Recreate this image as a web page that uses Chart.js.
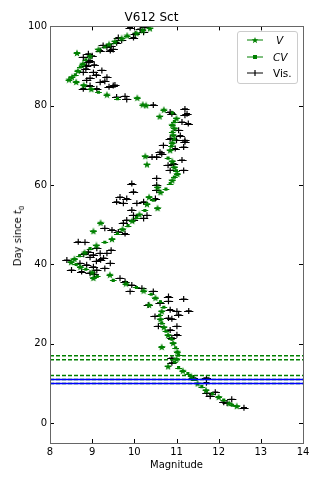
<!DOCTYPE html>
<html lang="en">

<head>
    <meta charset="UTF-8">
    <title>V612 Sct</title>
    <script src="https://cdn.jsdelivr.net/npm/chart.js@4/dist/chart.umd.min.js"></script>
    <style>
        body { margin: 0; background: #fff; }
        #wrap { position: relative; width: 322px; height: 483px; font-family: 'DejaVu Sans', sans-serif; }
        #ylab { position: absolute; left: 19px; top: 236px; transform: translate(-50%, -50%) rotate(-90deg); font-size: 10px; white-space: nowrap; color: #000; }
        #ylab sub { font-size: 7px; }
        #legend { position: absolute; left: 237px; top: 31px; width: 59px; height: 51px; border: 1px solid #ccc; border-radius: 3px; background: rgba(255,255,255,0.8); font-size: 10.5px; }
        #legend .row { position: absolute; left: 0; height: 14px; display: flex; align-items: center; }
        #legend svg { margin-left: 9px; margin-right: 10px; }
    </style>
</head>

<body>
    <div id="wrap">
        <canvas id="lc" width="322" height="483"></canvas>
        <div id="ylab">Day since <i>t</i><sub>0</sub></div>
        <div id="legend">
            <div class="row" style="top:1px">
                <svg width="16" height="8"><line x1="0" y1="4" x2="16" y2="4" stroke="green" stroke-width="1"/><polygon points="8,1 8.9,3.3 11.3,3.3 9.4,4.8 10.1,7.2 8,5.8 5.9,7.2 6.6,4.8 4.7,3.3 7.1,3.3" fill="green"/></svg>
                <span style="font-style:italic;margin-left:3px">V</span>
            </div>
            <div class="row" style="top:18px">
                <svg width="16" height="8"><line x1="0" y1="4" x2="16" y2="4" stroke="green" stroke-width="1"/><rect x="6" y="2" width="4" height="4" fill="green"/></svg>
                <span style="font-style:italic">CV</span>
            </div>
            <div class="row" style="top:34px">
                <svg width="16" height="8"><line x1="0" y1="4" x2="16" y2="4" stroke="#000" stroke-width="1"/><line x1="8" y1="1" x2="8" y2="7" stroke="#000" stroke-width="1.2"/></svg>
                <span>Vis.</span>
            </div>
        </div>
    </div>

    <script>
        // V band (magnitude, day since t0)
        const vMag = [10.37, 10.2, 10.05, 9.83, 9.7, 9.54, 9.4, 9.15, 8.64, 8.95, 8.78, 8.66, 8.52, 8.45, 8.62, 8.8, 8.98, 9.35,
            10.07, 10.2, 10.28, 10.7, 10.6, 11.0, 10.9, 10.95, 10.92, 10.9, 10.85, 10.26, 10.9, 10.3, 10.95, 11.02, 10.9,
            10.55, 10.62, 10.35, 10.3, 10.55, 10.12, 9.95, 9.2, 9.72, 9.03, 9.47, 9.1, 8.82, 8.58, 8.5, 8.72, 9.0, 9.42,
            9.03, 9.8, 10.22, 10.5, 10.35, 10.65, 10.62, 10.7, 10.8, 10.92, 10.65, 11.02, 11.0, 10.8, 11.15, 11.35, 11.5,
            11.7, 12.0, 12.25, 12.43];
        const vDay = [99.5, 99.0, 98.3, 97.7, 97.0, 96.2, 95.5, 94.2, 93.3, 92.5, 90.6, 88.8, 87.2, 86.6, 86.0, 85.2, 84.2, 82.8,
            82.0, 80.3, 80.1, 79.0, 77.3, 76.8, 75.2, 74.3, 72.6, 70.7, 68.8, 67.3, 66.0, 65.2, 64.5, 62.8, 61.2,
            59.4, 58.2, 57.0, 55.2, 54.2, 52.6, 51.0, 50.5, 48.9, 48.4, 46.4, 44.8, 43.0, 41.4, 40.6, 39.4, 38.0, 37.4,
            36.6, 35.2, 33.4, 31.6, 29.8, 28.2, 26.2, 24.2, 22.2, 20.2, 19.2, 18.0, 16.2, 14.3, 13.2, 11.8, 10.0,
            8.3, 6.6, 5.0, 4.3];

        // CV band
        const cvMag = [9.3, 8.85, 8.72, 8.6, 9.15, 9.6, 10.9, 10.95, 10.9, 10.95, 10.88, 10.8, 11.0, 10.95, 10.85, 10.75,
            10.45, 10.25, 10.05, 9.85, 9.6, 9.3, 8.95, 8.7, 8.62, 8.85, 9.12, 9.5, 10.05, 10.4, 10.62, 10.7, 10.6, 10.65,
            10.75, 10.88, 10.98, 11.05, 10.95, 11.05, 11.27, 11.42, 11.6, 11.85, 12.12, 12.33];
        const cvDay = [94.8, 91.6, 89.8, 87.8, 83.4, 81.8, 78.2, 76.0, 73.4, 71.6, 69.8, 66.8, 63.6, 62.0, 60.4, 59.0,
            56.2, 53.6, 51.8, 49.8, 47.8, 45.6, 44.0, 42.2, 40.0, 38.8, 37.0, 36.0, 34.2, 32.5, 30.6, 29.2, 27.2, 25.2,
            23.2, 21.2, 19.0, 17.2, 15.4, 14.0, 12.5, 11.0, 9.2, 7.4, 5.8, 4.5];

        // visual estimates
        const visMag = [10.02, 10.14, 10.22, 9.98, 9.9, 9.62, 9.58, 9.35, 9.19, 9.43, 9.26, 8.91, 8.79, 8.95, 8.87, 9.03,
            8.79, 8.87, 9.23, 9.35, 9.19, 8.79, 9.11, 8.95, 9.5, 9.54, 9.58, 9.82, 9.78, 10.45, 10.85, 11.2, 11.25, 10.89,
            11.13, 11.2, 11.05, 11.09, 11.2, 11.28, 10.85, 11.0, 10.69, 10.97, 11.2, 10.61, 11.17, 10.65, 10.53, 10.42,
            11.13, 10.93, 10.8, 10.85, 11.17, 10.53, 10.53, 9.94, 10.53, 9.98, 9.66, 9.82, 9.58, 9.74, 10.06, 10.22, 10.5,
            9.94, 9.98, 10.3, 9.82, 9.98, 10.22, 9.74, 9.3, 9.47, 9.62, 9.78, 8.67, 8.83, 9.11, 9.19, 9.35, 9.03, 8.91,
            9.27, 8.4, 8.71, 8.87, 9.03, 9.43, 8.51, 8.75, 8.95, 9.11, 9.66, 9.78, 9.94, 9.9, 10.18, 10.45, 10.81, 10.81,
            11.17, 10.33, 10.61, 11.29, 10.85, 11.01, 10.49, 10.81, 11.05, 10.89, 10.57, 11.01, 10.85, 11.01, 10.89,
            10.89, 10.89, 11.4, 11.71, 11.71, 11.72, 11.8, 11.92, 12.12, 12.2, 12.31, 12.6,
            9.0, 8.92, 9.05, 8.85, 9.1, 8.95, 9.3, 9.4, 9.5, 9.7, 10.25, 9.45,
            9.2, 8.95, 9.1, 9.3, 9.05, 8.8, 9.45];
        const visDay = [98.1, 99.3, 98.5, 97.2, 99.7, 97.2, 95.9, 94.7, 93.9, 93.9, 95.2, 93.1, 92.2, 91.4, 90.1, 88.4,
            88.4, 86.4, 88.9, 87.2, 85.9, 84.3, 84.3, 85.1, 85.1, 85.2, 82.2, 81.6, 82.4, 80.2, 78.4, 79.2, 78.0, 78.0,
            75.9, 77.6, 73.8, 72.5, 71.3, 75.5, 71.7, 71.3, 70.0, 69.2, 70.9, 68.3, 69.6, 67.9, 67.1, 67.1,
            66.3, 65.4, 65.0, 63.7, 63.7, 61.7, 60.0, 60.4, 58.7, 58.3, 57.0, 56.6, 55.8, 55.4, 55.4, 55.8, 56.6,
            53.7, 52.4, 52.4, 51.2, 51.2, 51.6, 50.4, 49.1, 48.7, 48.2, 47.8, 45.7, 45.6, 44.1, 42.8, 42.8, 42.4, 43.2,
            41.6, 41.1, 40.3, 39.9, 39.4, 40.3, 38.6, 38.2, 37.8, 38.6, 36.5, 35.7, 34.8, 33.2, 34.0, 33.2, 31.9, 30.7,
            31.3, 29.8, 30.2, 28.3, 28.6, 28.2, 26.9, 26.5, 27.3, 26.3, 24.4, 24.4, 23.5, 22.3, 21.5,
            16.4, 15.2, 11.4, 11.4, 10.2, 7.6, 6.8, 7.8, 5.3, 5.1, 6.0, 3.9,
            92.6, 91.0, 90.3, 89.3, 87.8, 87.0, 86.2, 84.8, 94.2, 96.5, 99.8, 95.0,
            41.2, 41.8, 40.8, 39.0, 37.6, 42.6, 43.6];

        const greenDashDays = [10, 11, 12, 16, 17];
        const blueDays = [10, 11];
        const xTicks = [8, 9, 10, 11, 12, 13, 14];
        const yTicks = [0, 20, 40, 60, 80, 100];

        const pts = (mags, days) => mags.map((m, i) => ({ x: m, y: days[i] }));
        const hline = (d) => [{ x: 8, y: d }, { x: 14, y: d }];

        // filled five point star marker
        const star = document.createElement('canvas');
        star.width = 8; star.height = 8;
        (function () {
            const c = star.getContext('2d');
            c.fillStyle = 'green';
            c.beginPath();
            for (let i = 0; i < 10; i++) {
                const r = i % 2 ? 1.7 : 4;
                const a = -Math.PI / 2 + i * Math.PI / 5;
                c.lineTo(4 + r * Math.cos(a), 4.3 + r * Math.sin(a));
            }
            c.fill();
        })();

        const errorBars = {
            id: 'errorBars',
            beforeDatasetsDraw(chart) {
                const { ctx, scales: { x, y }, chartArea } = chart;
                ctx.save();
                ctx.beginPath();
                ctx.rect(chartArea.left, chartArea.top, chartArea.width, chartArea.height);
                ctx.clip();
                chart.data.datasets.forEach(ds => {
                    if (!ds.xErr) return;
                    ctx.strokeStyle = ds.errColor;
                    ctx.lineWidth = 1;
                    ds.data.forEach(p => {
                        const py = Math.round(y.getPixelForValue(p.y)) + 0.5;
                        ctx.beginPath();
                        ctx.moveTo(x.getPixelForValue(p.x - ds.xErr), py);
                        ctx.lineTo(x.getPixelForValue(p.x + ds.xErr), py);
                        ctx.stroke();
                    });
                });
                ctx.restore();
            }
        };

        const frame = {
            id: 'frame',
            afterDraw(chart) {
                const { ctx, chartArea: a, scales: { x, y } } = chart;
                ctx.save();
                ctx.strokeStyle = '#000';
                ctx.lineWidth = 1;
                ctx.beginPath();
                xTicks.forEach(v => {
                    const px = Math.round(x.getPixelForValue(v)) + 0.5;
                    ctx.moveTo(px, a.bottom); ctx.lineTo(px, a.bottom - 4);
                    ctx.moveTo(px, a.top); ctx.lineTo(px, a.top + 4);
                });
                yTicks.forEach(v => {
                    const py = Math.round(y.getPixelForValue(v)) + 0.5;
                    ctx.moveTo(a.left, py); ctx.lineTo(a.left + 4, py);
                    ctx.moveTo(a.right, py); ctx.lineTo(a.right - 4, py);
                });
                ctx.stroke();
                ctx.strokeStyle = '#666';
                ctx.strokeRect(Math.round(a.left) + 0.5, Math.round(a.top) + 0.5, Math.round(a.width), Math.round(a.height));
                ctx.restore();
            }
        };

        const ctx = document.getElementById('lc').getContext('2d');
        new Chart(ctx, {
            type: 'scatter',
            data: {
                datasets: [
                    ...blueDays.map(d => ({
                        data: hline(d), showLine: true, pointRadius: 0, borderColor: '#0000ff',
                        borderWidth: 1.5, order: -1
                    })),
                    ...greenDashDays.map(d => ({
                        data: hline(d), showLine: true, pointRadius: 0, borderColor: 'green',
                        borderWidth: 1.5, borderDash: [4, 2], order: 0
                    })),
                    {
                        label: 'Vis.', data: pts(visMag, visDay), pointStyle: 'cross', pointRadius: 3,
                        borderColor: '#000', backgroundColor: '#000', pointBorderWidth: 1.2,
                        xErr: 0.11, errColor: '#000', order: 3
                    },
                    {
                        label: 'CV', data: pts(cvMag, cvDay), pointStyle: 'rect', pointRadius: 2.2,
                        borderColor: 'green', backgroundColor: 'green', pointBorderWidth: 0,
                        xErr: 0.08, errColor: 'green', order: 2
                    },
                    {
                        label: 'V', data: pts(vMag, vDay), pointStyle: star, pointRadius: 3,
                        borderColor: 'green', backgroundColor: 'green',
                        xErr: 0.08, errColor: 'green', order: 1
                    }
                ]
            },
            options: {
                responsive: false,
                animation: false,
                devicePixelRatio: 1,
                layout: { padding: { left: 0, right: 19, top: 0, bottom: 0 } },
                plugins: {
                    legend: { display: false },
                    tooltip: { enabled: false },
                    title: {
                        display: true, text: 'V612 Sct', color: '#000',
                        font: { family: 'DejaVu Sans', size: 12, weight: 'normal' },
                        padding: { top: 11, bottom: 1 }
                    }
                },
                scales: {
                    x: {
                        type: 'linear', min: 8, max: 14,
                        grid: { display: false, drawTicks: false }, border: { display: false },
                        afterBuildTicks: s => { s.ticks = xTicks.map(v => ({ value: v })); },
                        afterFit: s => { s.height = 40; },
                        ticks: { color: '#000', padding: 3, font: { family: 'DejaVu Sans', size: 10 } },
                        title: {
                            display: true, text: 'Magnitude', color: '#000',
                            font: { family: 'DejaVu Sans', size: 10 }, padding: { top: 0, bottom: 12 }
                        }
                    },
                    y: {
                        type: 'linear', min: -5, max: 100,
                        grid: { display: false, drawTicks: false }, border: { display: false },
                        afterBuildTicks: s => { s.ticks = yTicks.map(v => ({ value: v })); },
                        afterFit: s => { s.width = 50; },
                        ticks: { color: '#000', padding: 3, font: { family: 'DejaVu Sans', size: 10 } }
                    }
                }
            },
            plugins: [errorBars, frame]
        });
    </script>
</body>

</html>
